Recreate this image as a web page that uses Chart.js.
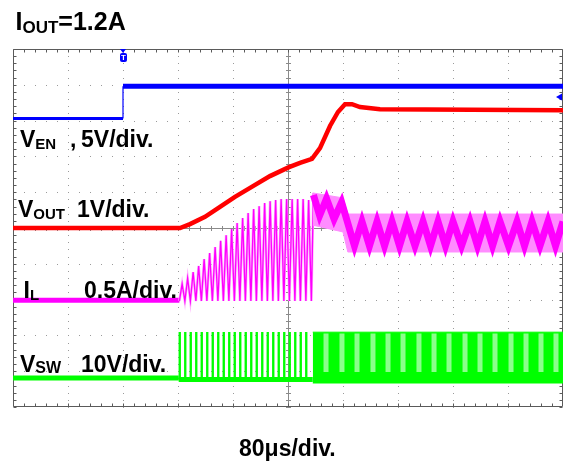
<!DOCTYPE html>
<html><head><meta charset="utf-8">
<script src="https://cdn.jsdelivr.net/npm/chart.js@4.4.0/dist/chart.umd.min.js"></script>
<style>
html,body{margin:0;padding:0;background:#fff;}
#wrap{position:relative;width:563px;height:464px;overflow:hidden;background:#fff;}
#c{position:absolute;left:0;top:0;}
.t{position:absolute;font-family:'Liberation Sans',Arial,sans-serif;font-weight:bold;color:#000;line-height:1;white-space:nowrap;}
.t sub{font-size:15px;vertical-align:-2px;line-height:1;}
#trig{position:absolute;left:120px;top:53px;width:7px;height:9px;background:#0000ff;color:#fff;border-radius:2px;font:bold 8px/9px 'Liberation Sans',Arial,sans-serif;text-align:center;}
#trigArrow{position:absolute;left:120px;top:49px;width:0;height:0;border-left:3.5px solid transparent;border-right:3.5px solid transparent;border-top:4px solid #0000ff;}
</style></head>
<body><div id="wrap">
<canvas id="c" width="563" height="464"></canvas>
<div id="trigArrow"></div><div id="trig">T</div>
<div class="t" style="left:15.5px;top:8.8px;font-size:25px">I<sub style="font-size:17px;vertical-align:-3px">OUT</sub>=1.2A</div>
<div class="t" style="left:20px;top:127.5px;font-size:23px">V<sub>EN</sub></div>
<div class="t" style="left:70px;top:127.5px;font-size:23px">,</div>
<div class="t" style="left:81px;top:127.5px;font-size:23px">5V/div.</div>
<div class="t" style="left:18px;top:197.5px;font-size:23px">V<sub>OUT</sub></div>
<div class="t" style="left:77px;top:197.5px;font-size:23px">1V/div.</div>
<div class="t" style="left:23.5px;top:278.5px;font-size:23px">I<sub>L</sub></div>
<div class="t" style="left:84px;top:278.5px;font-size:23px">0.5A/div.</div>
<div class="t" style="left:20px;top:352.5px;font-size:23px">V<sub style="font-size:16px;vertical-align:-1px">SW</sub></div>
<div class="t" style="left:81px;top:352.5px;font-size:23px">10V/div.</div>
<div class="t" style="left:239px;top:436.5px;font-size:23px">80μs/div.</div>
</div>
<script>
// ---- time axis: microseconds (80 us/div, 10 div); vertical: divisions ----
const xTicksUs = [-400, -320, -240, -160, -80, 0, 80, 160, 240, 320, 400];
const yTicksDiv = [-5, -4, -3, -2, -1, 0, 1, 2, 3, 4, 5];

// V_EN (blue)
const enTime  = [-400, -240, -240, 400];
const enLevel = [3.06, 3.06, 3.96, 3.96];

// V_OUT (red)
const outTime  = [-400, -157, -142.5, -120.7, -98.9, -77.1, -50.9, -26.2, 1.5, 17.5, 34.9, 46.5, 61.1, 72.7, 82.9, 93.1, 104.7, 133.8, 400];
const outLevel = [0, 0, 0.11, 0.31, 0.59, 0.87, 1.17, 1.45, 1.70, 1.82, 1.93, 2.23, 2.85, 3.24, 3.46, 3.46, 3.38, 3.32, 3.29];

// I_L (magenta)
const ilIdleTime  = [-400, -158];
const ilIdleLevel = [-2.02, -2.02];
const switchTimes = [-158,-150,-142,-134,-126,-118,-110,-102,-94,-86,-78,-70,-62,-54,-46,-38,-30,-22,-14,-6,2,10,18,26,34];
const ilPeakTimes = [-154,-146,-138,-130,-122,-114,-106,-98,-90,-82,-74,-66,-58,-50,-42,-34,-26,-18,-10,-2,6,14,22,30];
const ilPeakLevels = [-1.56,-1.40,-1.23,-1.06,-0.87,-0.70,-0.53,-0.36,-0.20,-0.03,0.14,0.28,0.42,0.53,0.61,0.70,0.75,0.78,0.81,0.81,0.81,0.81,0.81,0.78];
const ilTroughLevel = -2.04;
const ilBandTime   = [36, 80, 87, 400];
const ilBandTop    = [0.98, 0.84, 0.39, 0.39];
const ilBandBottom = [0.08, -0.11, -0.67, -0.67];
const ilRippleTime  = [37, 46, 56, 67, 78, 96.7, 107.6, 118.5, 129.5, 140.4, 151.3, 162.2, 173.1, 184.7, 196.4, 207.3, 218.2, 229.1, 240, 252.4, 264.7, 275.6, 286.5, 297.5, 308.4, 320.8, 333.1, 344, 354.9, 366.5, 378.2, 389.1, 400];
const ilRippleLevel = [0.92, 0.35, 0.82, 0.25, 0.72, -0.50, 0.18, -0.50, 0.18, -0.50, 0.18, -0.50, 0.18, -0.50, 0.18, -0.50, 0.18, -0.50, 0.18, -0.50, 0.18, -0.50, 0.18, -0.50, 0.18, -0.50, 0.18, -0.50, 0.18, -0.50, 0.18, -0.50, 0.18];

// V_SW (green)
const swIdleTime  = [-400, -159];
const swIdleLevel = [-4.19, -4.19];
const swLowTime   = [-159, 36];
const swLowLevel  = [-4.23, -4.23];
const swPulseHigh = -2.93;
const swPulseLow  = -4.25;
const swPulseWidth = 1.1;
const swBandTime   = [36, 400];
const swBandTop    = [-2.91, -2.91];
const swBandBottom = [-4.33, -4.33];
const swStripeTimes = [55.3, 78.5, 100.4, 123.6, 145.5, 167.3, 190.5, 212.4, 234.2, 257.5, 279.3, 301.1, 324.4, 346.2, 368, 389.8];
const swStripeTop = -2.95;
const swStripeBottom = -4.02;

// ---- build datasets from arrays ----
const pts = (ts, vs) => ts.map((t, i) => ({x: t, y: vs[i]}));
const teeth = [];
ilPeakTimes.forEach((t, i) => {
  teeth.push({x: switchTimes[i], y: ilTroughLevel});
  teeth.push({x: t, y: ilPeakLevels[i]});
});
teeth.push({x: switchTimes[switchTimes.length - 1], y: ilTroughLevel});
teeth.push({x: ilBandTime[0] + 1, y: ilBandTop[0]});

const pulses = [];
switchTimes.slice(0, 24).forEach(t => {
  pulses.push({x: t, y: swPulseLow}, {x: t, y: swPulseHigh}, {x: t + swPulseWidth, y: swPulseHigh}, {x: t + swPulseWidth, y: swPulseLow}, {x: t + swPulseWidth, y: null});
});
const stripes = [];
swStripeTimes.forEach(t => {
  stripes.push({x: t, y: swStripeTop}, {x: t, y: swStripeBottom}, {x: t, y: null});
});

const enWidths = [3, 1.2, 5];
const datasets = [
  {data: pts(enTime, enLevel), borderColor: '#0000ff', borderWidth: 4, segment: {borderWidth: c => enWidths[c.p0DataIndex]}},
  {data: pts(outTime, outLevel), borderColor: '#ff0000', borderWidth: 4.5},
  {data: pts(ilRippleTime, ilRippleLevel), borderColor: '#ff00ff', borderWidth: 7, borderJoinStyle: 'miter'},
  {data: pts(ilBandTime, ilBandTop), borderColor: '#ff8cff', borderWidth: 1, fill: '+1', backgroundColor: '#ff8cff'},
  {data: pts(ilBandTime, ilBandBottom), borderColor: '#ff8cff', borderWidth: 1},
  {data: teeth, borderColor: '#ff00ff', borderWidth: 1.3},
  {data: teeth, borderColor: '#ffb0ff', borderWidth: 2.6},
  {data: pts(ilIdleTime, ilIdleLevel), borderColor: '#ff00ff', borderWidth: 5},
  {data: stripes, borderColor: '#8cff8c', borderWidth: 5, spanGaps: false},
  {data: pts(swBandTime, swBandTop), borderColor: '#00ff00', borderWidth: 1, fill: '+1', backgroundColor: '#00ff00'},
  {data: pts(swBandTime, swBandBottom), borderColor: '#00ff00', borderWidth: 1},
  {data: pulses, borderColor: '#00ff00', borderWidth: 1.6, spanGaps: false},
  {data: pts(swLowTime, swLowLevel), borderColor: '#00ff00', borderWidth: 5},
  {data: pts(swIdleTime, swIdleLevel), borderColor: '#00ff00', borderWidth: 5}
];
datasets.forEach((d, i) => { d.order = i; d.pointRadius = 0; d.tension = 0; if (d.fill === undefined) d.fill = false; });

const scopeGrid = {
  id: 'scopeGrid',
  beforeDatasetsDraw(chart) {
    const {ctx, chartArea: a, scales: {x, y}} = chart;
    ctx.save();
    ctx.fillStyle = '#9a9a9a';
    xTicksUs.forEach(t => {
      if (t === 0 || t === -400 || t === 400) return;
      const px = Math.round(x.getPixelForValue(t));
      for (let v = -5; v <= 5.001; v += 0.2) ctx.fillRect(px, Math.round(y.getPixelForValue(v)), 1, 1);
    });
    yTicksDiv.forEach(v => {
      if (v === 0 || v === -5 || v === 5) return;
      const py = Math.round(y.getPixelForValue(v));
      for (let t = -400; t <= 400.01; t += 16) ctx.fillRect(Math.round(x.getPixelForValue(t)), py, 1, 1);
    });
    const cx = Math.round(x.getPixelForValue(0)) + 0.5;
    const cy = Math.round(y.getPixelForValue(0)) + 0.5;
    ctx.strokeStyle = '#8a8a8a';
    ctx.lineWidth = 1;
    ctx.beginPath();
    ctx.moveTo(a.left, cy); ctx.lineTo(a.right, cy);
    ctx.moveTo(cx, a.top); ctx.lineTo(cx, a.bottom);
    for (let t = -400; t <= 400.01; t += 16) {
      const px = Math.round(x.getPixelForValue(t)) + 0.5;
      ctx.moveTo(px, cy - 2.5); ctx.lineTo(px, cy + 2.5);
    }
    for (let v = -5; v <= 5.001; v += 0.2) {
      const py = Math.round(y.getPixelForValue(v)) + 0.5;
      ctx.moveTo(cx - 2.5, py); ctx.lineTo(cx + 2.5, py);
    }
    ctx.stroke();
    ctx.strokeStyle = '#5a5a5a';
    ctx.beginPath();
    const L = a.left + 0.5, R = a.right - 0.5, T = a.top + 0.5, B = a.bottom - 0.5;
    ctx.rect(L, T, R - L, B - T);
    for (let t = -400; t <= 400.01; t += 16) {
      const px = Math.round(x.getPixelForValue(t)) + 0.5;
      ctx.moveTo(px, T); ctx.lineTo(px, T + 3);
      ctx.moveTo(px, B); ctx.lineTo(px, B - 3);
    }
    for (let v = -5; v <= 5.001; v += 0.2) {
      const py = Math.round(y.getPixelForValue(v)) + 0.5;
      ctx.moveTo(L, py); ctx.lineTo(L + 3, py);
      ctx.moveTo(R, py); ctx.lineTo(R - 3, py);
    }
    ctx.stroke();
    ctx.restore();
  },
  afterDatasetsDraw(chart) {
    const {ctx, chartArea: a, scales: {y}} = chart;
    const py = y.getPixelForValue(3.66);
    ctx.save();
    ctx.fillStyle = '#0000ff';
    ctx.beginPath();
    ctx.moveTo(a.right - 7, py); ctx.lineTo(a.right - 1, py - 3.5); ctx.lineTo(a.right - 1, py + 3.5);
    ctx.closePath(); ctx.fill();
    ctx.restore();
  }
};

new Chart(document.getElementById('c'), {
  type: 'line',
  data: {datasets},
  options: {
    responsive: false, maintainAspectRatio: false, animation: false, devicePixelRatio: 1, events: [],
    layout: {padding: {left: 13, top: 49, right: 0, bottom: 57}},
    elements: {point: {radius: 0}, line: {tension: 0, borderCapStyle: 'butt'}},
    plugins: {legend: {display: false}, tooltip: {enabled: false}},
    scales: {
      x: {type: 'linear', min: -400, max: 400, display: false},
      y: {type: 'linear', min: -5, max: 5, display: false}
    }
  },
  plugins: [scopeGrid]
});
</script>
</body></html>
